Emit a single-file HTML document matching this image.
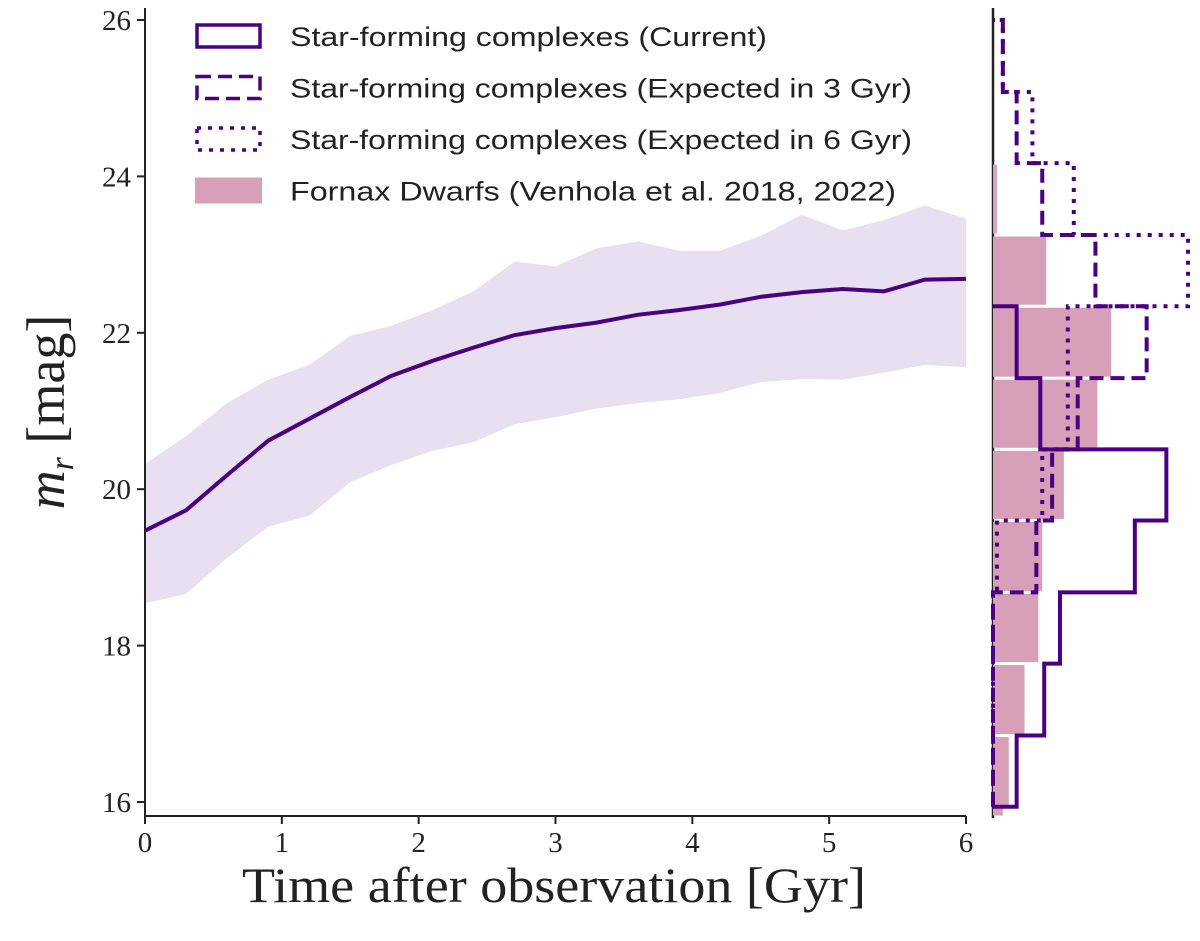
<!DOCTYPE html>
<html><head><meta charset="utf-8"><style>
body{margin:0;background:#fff}
svg{display:block}
text{font-family:"Liberation Serif",serif;fill:#222}
.leg{font-family:"Liberation Sans",sans-serif;font-size:27px}
</style></head><body>
<svg id="c" width="1200" height="941" viewBox="0 0 1200 941" xmlns="http://www.w3.org/2000/svg"></svg>
<script>
const times=[0,0.3,0.6,0.9,1.2,1.5,1.8,2.1,2.4,2.7,3.0,3.3,3.6,3.9,4.2,4.5,4.8,5.1,5.4,5.7,6.0];
const medianMag=[19.47,19.73,20.18,20.62,20.90,21.18,21.45,21.64,21.81,21.97,22.06,22.13,22.23,22.29,22.36,22.46,22.52,22.56,22.53,22.68,22.69];
const upperMag=[20.32,20.68,21.10,21.40,21.59,21.96,22.09,22.29,22.53,22.91,22.85,23.08,23.17,23.05,23.05,23.24,23.51,23.31,23.44,23.63,23.46];
const lowerMag=[18.54,18.66,19.12,19.52,19.66,20.09,20.31,20.49,20.60,20.83,20.92,21.03,21.10,21.15,21.23,21.37,21.41,21.40,21.49,21.59,21.56];
const binEdges=[15.03,15.94,16.85,17.77,18.68,19.60,20.51,21.42,22.34,23.25,24.17,25.08,26.0];
const countsFornax=[5,8,16,23,25,36,53,60,27,2,0,0];
const countsCurrent=[0,12,26,34,72,88,24,12,0,0,0,0];
const counts3Gyr=[0,0,0,0,22,30,43,78,52,25,12,5];
const counts6Gyr=[0,0,0,0,2,25,38,38,99,41,20,5];
const xTicks=[0,1,2,3,4,5,6];
const yTicks=[16,18,20,22,24,26];

const NS='http://www.w3.org/2000/svg';
const svg=document.getElementById('c');
function mk(tag,attrs,parent){const e=document.createElementNS(NS,tag);for(const k in attrs)e.setAttribute(k,attrs[k]);(parent||svg).appendChild(e);return e;}
const X0=145,X1=966,YTOP=8,YBOT=816;
const xs=t=>X0+(t-0)/(6-0)*(X1-X0);
const ys=m=>20+(26-m)*78.2;
const HX0=993;
const hx=c=>HX0+c*1.97;
const C='#4b0082';

let d='M'+times.map((t,i)=>xs(t)+','+ys(upperMag[i])).join('L')+'L'+times.slice().reverse().map((t,i)=>xs(t)+','+ys(lowerMag[times.length-1-i])).join('L')+'Z';
let band=mk('path',{d:d,fill:'#e8e0f0'});


let line=mk('path',{d:'M'+times.map((t,i)=>xs(t)+','+ys(medianMag[i])).join('L'),fill:'none',stroke:C,'stroke-width':4});



let ax=mk('g',{});


mk('line',{x1:X0,y1:YTOP,x2:X0,y2:YBOT,stroke:'#222','stroke-width':2},ax);
mk('line',{x1:X0,y1:YBOT,x2:X1,y2:YBOT,stroke:'#222','stroke-width':2},ax);
xTicks.forEach(v=>{mk('line',{x1:xs(v),y1:YBOT,x2:xs(v),y2:YBOT+8,stroke:'#222','stroke-width':2},ax);
 const t=mk('text',{x:xs(v),y:YBOT+36,'font-size':29,'text-anchor':'middle'},ax);t.textContent=v;
 
 });
yTicks.forEach(v=>{mk('line',{x1:X0-8,y1:ys(v),x2:X0,y2:ys(v),stroke:'#222','stroke-width':2},ax);
 const t=mk('text',{x:X0-14,y:ys(v)+10,'font-size':29,'text-anchor':'end'},ax);t.textContent=v;
 
 });
mk('line',{x1:HX0,y1:YTOP,x2:HX0,y2:818,stroke:'#222','stroke-width':2.5},ax);
let xl=mk('text',{x:554,y:902,'font-size':50,'text-anchor':'middle',textLength:624,lengthAdjust:'spacingAndGlyphs'});xl.textContent='Time after observation [Gyr]';


let yl=mk('text',{x:0,y:0,'font-size':54,'text-anchor':'middle',transform:'translate(64,412) rotate(-90)'});
yl.innerHTML='<tspan font-style="italic">m</tspan><tspan font-style="italic" font-size="34" dy="9">r</tspan><tspan dy="-9"> [mag]</tspan>';



countsFornax.forEach((c,i)=>{if(c<=0)return;
 const yT=ys(binEdges[i+1]),yB=Math.min(ys(binEdges[i]),817);
 const r=mk('rect',{x:HX0,y:yT+1.5,width:hx(c)-HX0,height:yB-yT-3,fill:'#d8a0b8'});
 
 });
function step(counts,dash,name){
 let last=counts.length-1;while(last>0&&counts[last]<=0)last--;
 let p='';
 counts.forEach((c,i)=>{if(i===0||i>last)return;const yB=ys(binEdges[i]),yT=ys(binEdges[i+1]);
  if(p==='')p+='M'+hx(0)+','+yB;
  p+='L'+hx(c)+','+yB+'L'+hx(c)+','+yT;});
 p+='L'+hx(0)+','+ys(binEdges[last+1]);
 const e=mk('path',{d:p,fill:'none',stroke:C,'stroke-width':4,'stroke-dasharray':dash==='dash'?'14,7':(dash==='dot'?'4,7':'none')});
 
 }
step(countsCurrent,'solid','hist-current');
step(counts3Gyr,'dash','hist-3gyr');
step(counts6Gyr,'dot','hist-6gyr');

const leg=mk('g',{});


const items=[['solid','Star-forming complexes (Current)',477],['dash','Star-forming complexes (Expected in 3 Gyr)',622],['dot','Star-forming complexes (Expected in 6 Gyr)',622],['fill','Fornax Dwarfs (Venhola et al. 2018, 2022)',606]];
items.forEach((it,i)=>{const y=36+i*51.5;
 const g=mk('g',{},leg);
 
 
 if(it[0]==='fill')mk('rect',{x:195,y:y-13,width:67,height:26,fill:'#d8a0b8'},g);
 else mk('rect',{x:197,y:y-11,width:63,height:22,fill:'none',stroke:C,'stroke-width':3.5,'stroke-dasharray':it[0]==='dash'?'14,7':(it[0]==='dot'?'4,7':'none')},g);
 const t=mk('text',{x:290,y:y+10,class:'leg',textLength:it[2],lengthAdjust:'spacingAndGlyphs'},g);t.textContent=it[1];});
</script>
</body></html>
